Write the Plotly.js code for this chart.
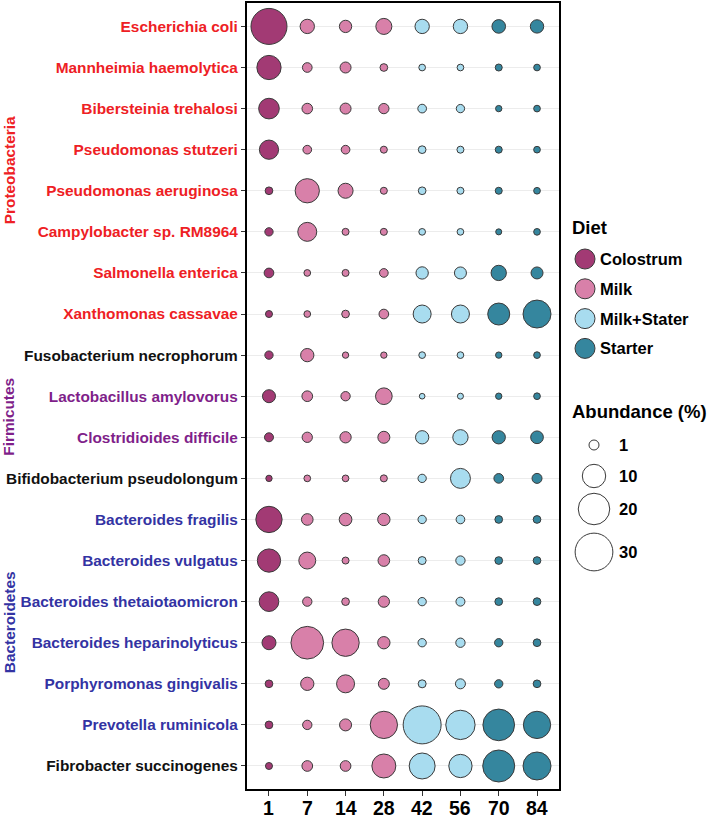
<!DOCTYPE html>
<html>
<head>
<meta charset="utf-8">
<script src="https://cdn.plot.ly/plotly-3.0.1.min.js"></script>
<style>
html,body{margin:0;padding:0;background:#fff;}
#chart{width:708px;height:818px;}
</style>
</head>
<body>
<div id="chart"></div>
<script>
// ---------- DATA ----------
const species = [
  "Escherichia coli","Mannheimia haemolytica","Bibersteinia trehalosi","Pseudomonas stutzeri",
  "Pseudomonas aeruginosa","Campylobacter sp. RM8964","Salmonella enterica","Xanthomonas cassavae",
  "Fusobacterium necrophorum","Lactobacillus amylovorus","Clostridioides difficile","Bifidobacterium pseudolongum",
  "Bacteroides fragilis","Bacteroides vulgatus","Bacteroides thetaiotaomicron","Bacteroides heparinolyticus",
  "Porphyromonas gingivalis","Prevotella ruminicola","Fibrobacter succinogenes"
];
const phylumOfSpecies = [
  "Proteobacteria","Proteobacteria","Proteobacteria","Proteobacteria",
  "Proteobacteria","Proteobacteria","Proteobacteria","Proteobacteria",
  "other","Firmicutes","Firmicutes","other",
  "Bacteroidetes","Bacteroidetes","Bacteroidetes","Bacteroidetes",
  "Bacteroidetes","Bacteroidetes","other"
];
const days = ["1","7","14","28","42","56","70","84"];
const dietOfDay = ["Colostrum","Milk","Milk","Milk","Milk+Stater","Milk+Stater","Starter","Starter"];
const diets = ["Colostrum","Milk","Milk+Stater","Starter"];
// abundance (%) per species (rows) and day (columns)
const abundance = [
  [27,   2.9, 1.9, 3.9, 2.9, 2.9, 2.5, 2.4],
  [10.9, 0.9, 1.35,0.4, 0.22,0.22,0.27,0.22],
  [7.4,  1.2, 1.35,1.1, 0.62,0.53,0.17,0.22],
  [6.2,  0.62,0.62,0.27,0.4, 0.27,0.27,0.22],
  [0.4,  10.9,3.3, 0.27,0.4, 0.27,0.27,0.22],
  [0.53, 6.0, 0.27,0.27,0.22,0.22,0.13,0.22],
  [0.9,  0.22,0.27,0.62,1.9, 1.75,3.45,1.75],
  [0.27, 0.22,0.4, 0.9, 5.25,5.25,8.6, 15.2],
  [0.53, 2.35,0.17,0.17,0.22,0.22,0.17,0.22],
  [2.2,  1.24,0.8, 4.3, 0.09,0.13,0.17,0.22],
  [0.7,  1.1, 1.46,1.75,2.35,3.45,2.35,2.06],
  [0.17, 0.22,0.22,0.27,0.53,6.8, 0.9, 1.0],
  [13.2, 1.6, 2.06,1.9, 0.53,0.62,0.4, 0.4],
  [9.9,  4.5, 0.27,1.6, 0.46,0.8, 0.4, 0.4],
  [6.55, 0.8, 0.4, 1.46,0.53,0.7, 0.4, 0.4],
  [2.7,  21.7,14.4,1.9, 0.53,0.8, 0.53,0.4],
  [0.4,  2.35,5.25,1.35,0.46,1.0, 0.53,0.4],
  [0.4,  0.8, 1.75,14.4,30.4,17,  20.2,14.4],
  [0.27, 1.24,1.24,10.6,12.8,9.9, 20.7,15.2]
];
const sizeLegendValues = [1, 10, 20, 30];
const sizeLegendLabels = ["1", "10", "20", "30"];
const phyla = ["Proteobacteria","Firmicutes","Bacteroidetes"];

// ---------- STYLE ----------
const FONT = "Liberation Sans, Arial, sans-serif";
const dietColors = {"Colostrum":"#A23A74","Milk":"#D880A9","Milk+Stater":"#A8DCEF","Starter":"#35869E"};
const phylumColors = {"Proteobacteria":"#EE2024","Firmicutes":"#7F1F8A","Bacteroidetes":"#3333A3","other":"#111111"};
function bubble(v){ return 3.8 + 6.2*Math.sqrt(v); }   // diameter in px

// plot-area geometry (px)
const W = 708, H = 818;
const L = 247, R = 559, T = 3, B = 789;
const px = x => (x - L)/(R - L);
const py = y => (B - y)/(B - T);

// ---------- TRACES ----------
const traces = diets.map(diet => {
  const xs = [], ys = [], ss = [], txt = [];
  species.forEach((sp, i) => {
    days.forEach((d, j) => {
      if (dietOfDay[j] === diet) {
        xs.push(d); ys.push(sp); ss.push(bubble(abundance[i][j])); txt.push(abundance[i][j]);
      }
    });
  });
  return {
    type: "scatter", mode: "markers", x: xs, y: ys, name: diet, text: txt,
    hovertemplate: "%{y}<br>Day %{x}<br>%{text}%<extra>" + diet + "</extra>",
    marker: {size: ss, sizemode: "diameter", color: dietColors[diet],
             line: {color: "#3a3a3a", width: 1}, opacity: 1},
    showlegend: false, cliponaxis: false
  };
});

// ---------- ANNOTATIONS & SHAPES ----------
const annotations = [];
const shapes = [];

// x tick labels (drawn as annotations at the category index positions)
days.forEach((d, j) => {
  annotations.push({text: d, xref: "x", x: j, yref: "paper", y: py(807.5),
    xanchor: "center", yanchor: "middle", showarrow: false, borderpad: 0,
    font: {family: FONT, size: 19.5, color: "#000", weight: "bold"}});
});

// phylum group labels
phyla.forEach(p => {
  const idx = phylumOfSpecies.map((q, i) => q === p ? i : -1).filter(i => i >= 0);
  const mid = (idx[0] + idx[idx.length - 1]) / 2;
  annotations.push({
    text: p, xref: "paper", x: px(9), yref: "y", y: mid, textangle: -90,
    showarrow: false, xanchor: "center", yanchor: "middle",
    font: {family: FONT, size: 15.4, color: phylumColors[p], weight: "bold"}
  });
});

// Diet legend
annotations.push({text: "Diet", xref: "paper", yref: "paper", x: px(570), y: py(227),
  xanchor: "left", yanchor: "middle", showarrow: false,
  font: {family: FONT, size: 18.5, color: "#000", weight: "bold"}});
diets.forEach((d, k) => {
  const cy = 259 + k*29.8;
  shapes.push({type: "circle", xref: "paper", yref: "paper", xsizemode: "pixel", ysizemode: "pixel",
    xanchor: px(585), yanchor: py(cy), x0: -10, x1: 10, y0: -10, y1: 10,
    fillcolor: dietColors[d], line: {color: "#3a3a3a", width: 1}});
  annotations.push({text: d, xref: "paper", yref: "paper", x: px(598), y: py(cy),
    xanchor: "left", yanchor: "middle", showarrow: false,
    font: {family: FONT, size: 16.5, color: "#000", weight: "bold"}});
});

// Abundance legend
annotations.push({text: "Abundance (%)", xref: "paper", yref: "paper", x: px(570), y: py(412),
  xanchor: "left", yanchor: "middle", showarrow: false,
  font: {family: FONT, size: 18.5, color: "#000", weight: "bold"}});
const sizeY = [445, 476, 509, 552];
sizeLegendValues.forEach((v, k) => {
  const r = bubble(v)/2;
  shapes.push({type: "circle", xref: "paper", yref: "paper", xsizemode: "pixel", ysizemode: "pixel",
    xanchor: px(594), yanchor: py(sizeY[k]), x0: -r, x1: r, y0: -r, y1: r,
    fillcolor: "#ffffff", line: {color: "#3a3a3a", width: 1}});
  annotations.push({text: sizeLegendLabels[k], xref: "paper", yref: "paper", x: px(617), y: py(sizeY[k]),
    xanchor: "left", yanchor: "middle", showarrow: false,
    font: {family: FONT, size: 16.5, color: "#000", weight: "bold"}});
});

// ---------- LAYOUT ----------
const layout = {
  width: W, height: H,
  margin: {l: L, r: W - R, t: T, b: H - B, pad: 0},
  paper_bgcolor: "#fff", plot_bgcolor: "#fff",
  showlegend: false,
  font: {family: FONT, color: "#000"},
  xaxis: {
    type: "category", categoryorder: "array", categoryarray: days,
    range: [-0.574, 7.574], showgrid: false, zeroline: false,
    showline: true, mirror: true, linecolor: "#000", linewidth: 2.2,
    ticks: "outside", ticklen: 5, tickwidth: 1, tickcolor: "#333",
    showticklabels: false
  },
  yaxis: {
    type: "category", categoryorder: "array", categoryarray: species,
    range: [18.56, -0.57], showgrid: true, gridcolor: "#ececec", gridwidth: 1, zeroline: false,
    showline: true, mirror: true, linecolor: "#000", linewidth: 2.2,
    ticks: "outside", ticklen: 4, tickwidth: 1, tickcolor: "#333",
    tickvals: species,
    ticktext: species.map((s, i) => '<span style="color:' + phylumColors[phylumOfSpecies[i]] + '">' + s + '</span>'),
    tickfont: {family: FONT, size: 15.4, color: "#000", weight: "bold"}
  },
  annotations: annotations,
  shapes: shapes
};

Plotly.newPlot("chart", traces, layout, {displayModeBar: false, responsive: false});
</script>
</body>
</html>
